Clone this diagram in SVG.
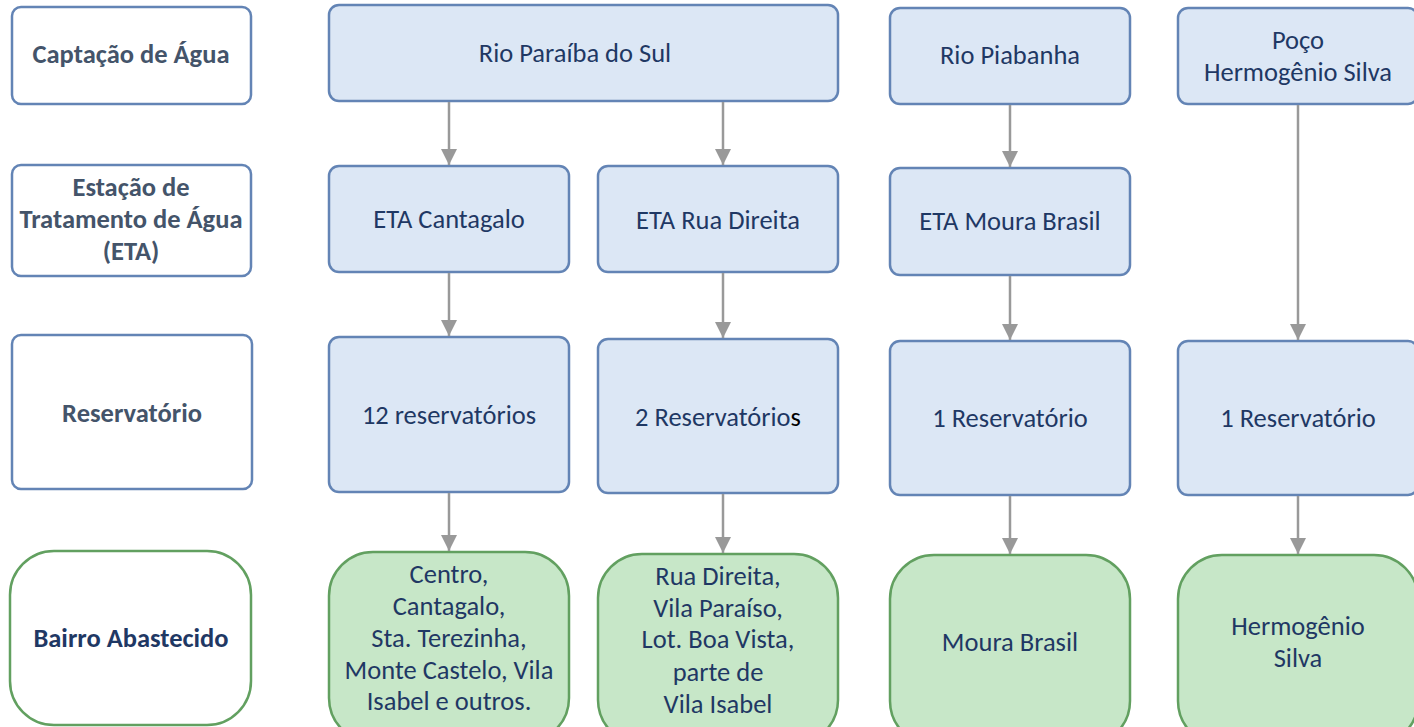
<svg xmlns="http://www.w3.org/2000/svg" width="1414" height="727" viewBox="0 0 1414 727">
<defs>
<style>
.lab{fill:#fff;stroke:#6384b5;stroke-width:2.5}
.labg{fill:#fff;stroke:#62a060;stroke-width:2.5}
.blue{fill:#dce7f5;stroke:#6384b5;stroke-width:2.5}
.green{fill:#c7e7c8;stroke:#62a060;stroke-width:2.5}
text{font-family:Carlito,Lato,"Open Sans",sans-serif;font-size:26.5px;fill:#1f3864;text-anchor:middle}
.b{font-weight:bold;fill:#44546a}
.bd{font-weight:bold;fill:#1f3864}
.conn line{stroke:#999;stroke-width:2.5}
</style>
<marker id="ah" markerWidth="16" markerHeight="16" viewBox="0 0 16 16" refX="16" refY="8" orient="auto" markerUnits="userSpaceOnUse">
<path d="M0,0 L16,8 L0,16 z" fill="#999"/>
</marker>
</defs>
<rect width="1414" height="727" fill="#fff"/>

<g id="label-captacao"><rect class="lab" x="12" y="7" width="239" height="97" rx="9"/><text class="b" x="131" y="63">Captação de Água</text></g>
<g id="label-eta"><rect class="lab" x="12" y="165" width="239" height="111" rx="9"/><text class="b" x="131" y="196">Estação de</text><text class="b" x="131" y="228">Tratamento de Água</text><text class="b" x="131" y="260">(ETA)</text></g>
<g id="label-reservatorio"><rect class="lab" x="12" y="335" width="240" height="154" rx="9"/><text class="b" x="132" y="422">Reservatório</text></g>
<g id="label-bairro"><rect class="labg" x="10" y="551" width="241" height="174" rx="44"/><text class="bd" x="131" y="647">Bairro Abastecido</text></g>

<g id="rio-paraiba"><rect class="blue" x="329" y="5" width="509" height="96" rx="10"/><text x="575" y="62">Rio Paraíba do Sul</text></g>
<g id="rio-piabanha"><rect class="blue" x="890" y="8" width="240" height="96" rx="10"/><text x="1010" y="64">Rio Piabanha</text></g>
<g id="poco"><rect class="blue" x="1178" y="8" width="240" height="96" rx="10"/><text x="1298" y="49">Poço</text><text x="1298" y="81">Hermogênio Silva</text></g>

<g id="eta-cantagalo"><rect class="blue" x="329" y="166" width="240" height="106" rx="10"/><text x="449" y="228">ETA Cantagalo</text></g>
<g id="eta-rua-direita"><rect class="blue" x="598" y="166" width="240" height="106" rx="10"/><text x="718" y="229">ETA Rua Direita</text></g>
<g id="eta-moura"><rect class="blue" x="890" y="168" width="240" height="107" rx="10"/><text x="1010" y="230">ETA Moura Brasil</text></g>

<g id="res-12"><rect class="blue" x="329" y="337" width="240" height="155" rx="10"/><text x="449" y="424">12 reservatórios</text></g>
<g id="res-2"><rect class="blue" x="598" y="339" width="240" height="154" rx="10"/><text x="718" y="426">2 Reservatório<tspan fill="#000">s</tspan></text></g>
<g id="res-moura"><rect class="blue" x="890" y="341" width="240" height="154" rx="10"/><text x="1010" y="427">1 Reservatório</text></g>
<g id="res-poco"><rect class="blue" x="1178" y="341" width="240" height="154" rx="10"/><text x="1298" y="427">1 Reservatório</text></g>

<g id="bairro-centro"><rect class="green" x="329" y="552" width="240" height="190" rx="44"/><text x="449" y="583">Centro,</text><text x="449" y="615">Cantagalo,</text><text x="449" y="647">Sta. Terezinha,</text><text x="449" y="679">Monte Castelo, Vila</text><text x="449" y="710">Isabel e outros.</text></g>
<g id="bairro-rua-direita"><rect class="green" x="598" y="554" width="240" height="190" rx="44"/><text x="718" y="585">Rua Direita,</text><text x="718" y="617">Vila Paraíso,</text><text x="718" y="648">Lot. Boa Vista,</text><text x="718" y="681">parte de</text><text x="718" y="713">Vila Isabel</text></g>
<g id="bairro-moura"><rect class="green" x="890" y="555" width="240" height="190" rx="44"/><text x="1010" y="651">Moura Brasil</text></g>
<g id="bairro-hermogenio"><rect class="green" x="1178" y="555" width="240" height="190" rx="44"/><text x="1298" y="635">Hermogênio</text><text x="1298" y="667">Silva</text></g>

<g id="connectors" class="conn">
<line x1="449" y1="102" x2="449" y2="165" marker-end="url(#ah)"/>
<line x1="723" y1="102" x2="723" y2="165" marker-end="url(#ah)"/>
<line x1="1010" y1="105" x2="1010" y2="167" marker-end="url(#ah)"/>
<line x1="1298" y1="105" x2="1298" y2="340" marker-end="url(#ah)"/>
<line x1="449" y1="273" x2="449" y2="336" marker-end="url(#ah)"/>
<line x1="723" y1="273" x2="723" y2="338" marker-end="url(#ah)"/>
<line x1="1010" y1="276" x2="1010" y2="340" marker-end="url(#ah)"/>
<line x1="449" y1="493" x2="449" y2="551" marker-end="url(#ah)"/>
<line x1="723" y1="494" x2="723" y2="553" marker-end="url(#ah)"/>
<line x1="1010" y1="496" x2="1010" y2="554" marker-end="url(#ah)"/>
<line x1="1298" y1="496" x2="1298" y2="554" marker-end="url(#ah)"/>
</g>
</svg>
